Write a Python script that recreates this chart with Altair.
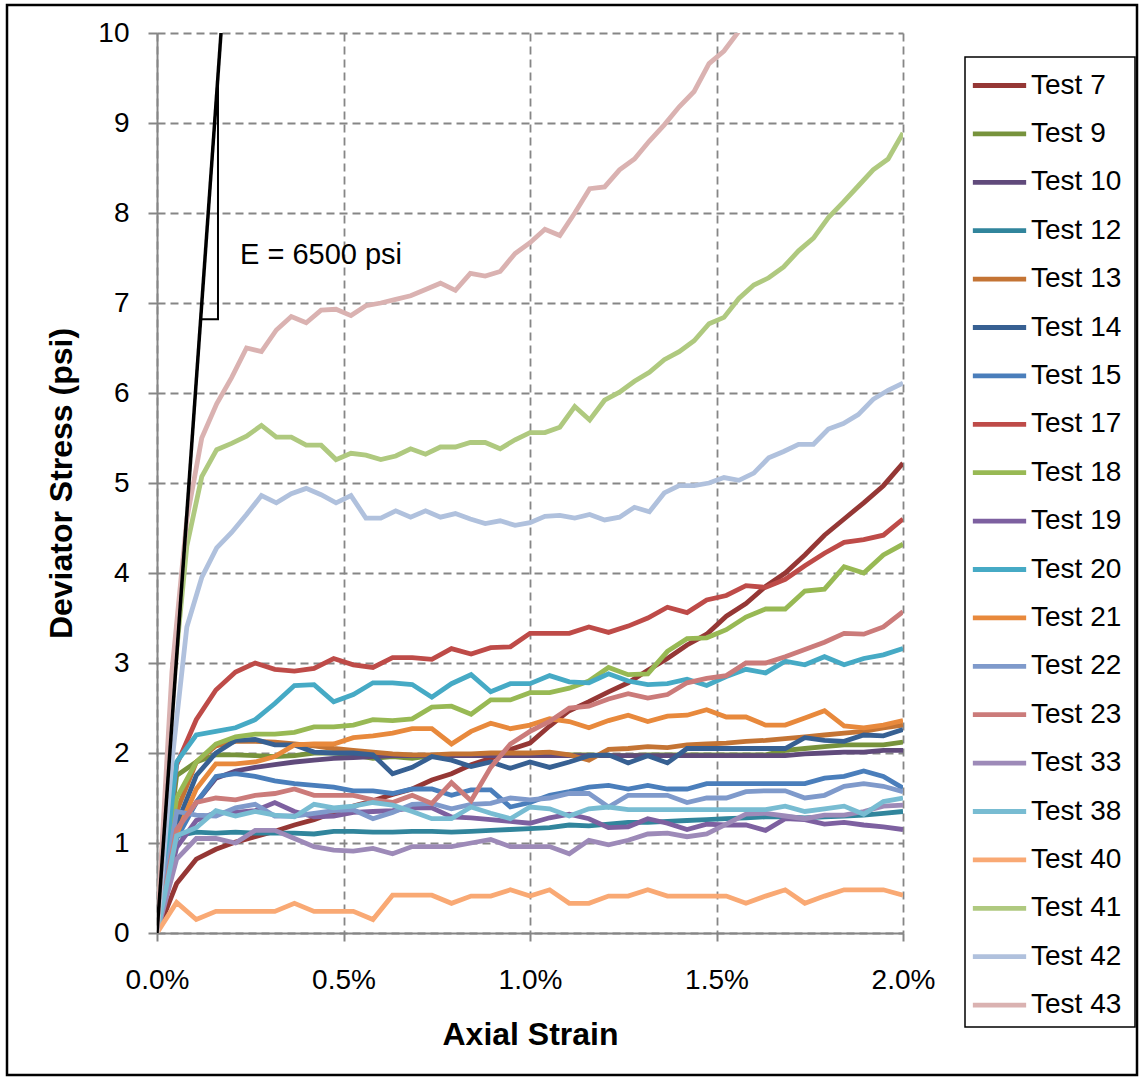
import altair as alt
import pandas as pd

FONT = "Liberation Sans"

# strain spacing between readings (fraction): fine = 0.04 %, coarse = 2.0 % / 38
STEP_FINE = 0.0004
STEP_COARSE = 0.02 / 38

names = ["Test 7", "Test 9", "Test 10", "Test 12", "Test 13", "Test 14", "Test 15",
         "Test 17", "Test 18", "Test 19", "Test 20", "Test 21", "Test 22", "Test 23",
         "Test 33", "Test 38", "Test 40", "Test 41", "Test 42", "Test 43"]

colors = ["#953735", "#77933C", "#604A7B", "#31859C", "#C47434", "#376092", "#4A7EBB",
          "#BE4B48", "#98B954", "#7D60A0", "#46AAC5", "#E8893C", "#7F9ACB", "#CB7B7A",
          "#9D8AB8", "#78BCD2", "#F9A974", "#AFC97F", "#B0C1DD", "#DAB2B1"]

test7 = [0, 0.55, 0.82, 0.93, 1.01, 1.07, 1.13, 1.2, 1.26, 1.34, 1.41, 1.47, 1.54, 1.6, 1.7, 1.77,
         1.87, 1.94, 2.04, 2.11, 2.3, 2.47, 2.57, 2.68, 2.78, 2.92, 3.05, 3.2, 3.32, 3.52, 3.66,
         3.85, 4.0, 4.2, 4.42, 4.6, 4.78, 4.97, 5.22]
test9 = [0, 1.75, 1.9, 1.98, 1.98, 1.97, 1.96, 1.97, 2.0, 2.0, 1.98, 1.94, 1.96, 1.94, 1.97, 1.97,
         1.98, 1.98, 1.98, 1.98, 1.97, 1.98, 1.98, 1.97, 1.97, 1.98, 1.98, 1.98, 1.98, 1.98, 1.98,
         1.98, 2.03, 2.05, 2.07, 2.09, 2.09, 2.09, 2.12]
test10 = [0, 1.1, 1.45, 1.72, 1.8, 1.84, 1.87, 1.9, 1.92, 1.94, 1.95, 1.96, 1.97, 1.97, 1.97, 1.97,
          1.97, 1.97, 1.97, 1.97, 1.97, 1.97, 1.97, 1.97, 1.97, 1.97, 1.97, 1.97, 1.97, 1.97, 1.97,
          1.97, 1.97, 1.99, 2.0, 2.01, 2.01, 2.03, 2.03]
test12 = [0, 1.08, 1.12, 1.11, 1.12, 1.11, 1.11, 1.11, 1.1, 1.13, 1.13, 1.12, 1.12, 1.13, 1.13, 1.12,
          1.13, 1.14, 1.15, 1.16, 1.17, 1.2, 1.19, 1.21, 1.23, 1.23, 1.24, 1.25, 1.26, 1.27, 1.28,
          1.29, 1.29, 1.28, 1.29, 1.3, 1.31, 1.33, 1.35]
test13 = [0, 1.35, 1.9, 2.08, 2.13, 2.13, 2.12, 2.1, 2.08, 2.05, 2.03, 2.01, 1.99, 1.98, 1.98, 1.99,
          1.99, 2.0, 2.0, 2.0, 2.01, 1.98, 1.92, 2.04, 2.05, 2.07, 2.06, 2.09, 2.1, 2.11, 2.13,
          2.14, 2.16, 2.18, 2.2, 2.22, 2.24, 2.28, 2.31]
test14 = [0, 1.2, 1.75, 2.0, 2.14, 2.15, 2.09, 2.09, 2.01, 2.0, 2.0, 1.98, 1.77, 1.84, 1.96, 1.92,
          1.85, 1.9, 1.83, 1.9, 1.84, 1.9, 1.97, 1.98, 1.89, 1.97, 1.89, 2.05, 2.05, 2.05, 2.05,
          2.05, 2.05, 2.17, 2.14, 2.13, 2.2, 2.19, 2.26]
test15 = [0, 1.05, 1.45, 1.74, 1.77, 1.74, 1.69, 1.66, 1.64, 1.62, 1.58, 1.58, 1.55, 1.6, 1.6, 1.53,
          1.59, 1.59, 1.4, 1.45, 1.53, 1.57, 1.62, 1.64, 1.6, 1.64, 1.6, 1.6, 1.66, 1.66, 1.66,
          1.66, 1.66, 1.66, 1.72, 1.74, 1.8, 1.74, 1.61]
test17 = [0, 1.87, 2.37, 2.7, 2.9, 3.0, 2.93, 2.91, 2.94, 3.05, 2.98, 2.95, 3.06, 3.06, 3.04, 3.16,
          3.1, 3.17, 3.18, 3.33, 3.33, 3.33, 3.4, 3.34, 3.41, 3.5, 3.62, 3.56, 3.7, 3.75, 3.86,
          3.84, 3.93, 4.08, 4.22, 4.34, 4.37, 4.42, 4.6]
test18 = [0, 1.5, 1.9, 2.1, 2.18, 2.21, 2.21, 2.23, 2.29, 2.29, 2.31, 2.37, 2.36, 2.38, 2.51, 2.52,
          2.43, 2.59, 2.59, 2.67, 2.67, 2.72, 2.8, 2.95, 2.87, 2.88, 3.13, 3.27, 3.28, 3.37, 3.51,
          3.6, 3.6, 3.8, 3.82, 4.07, 4.0, 4.2, 4.32]
test19 = [0, 0.95, 1.25, 1.34, 1.34, 1.36, 1.45, 1.35, 1.29, 1.3, 1.34, 1.35, 1.36, 1.39, 1.39, 1.29,
          1.28, 1.26, 1.24, 1.22, 1.28, 1.32, 1.27, 1.17, 1.18, 1.27, 1.22, 1.15, 1.21, 1.2, 1.2,
          1.14, 1.27, 1.26, 1.21, 1.23, 1.2, 1.18, 1.15]
test20 = [0, 1.9, 2.2, 2.24, 2.28, 2.37, 2.55, 2.75, 2.76, 2.57, 2.65, 2.78, 2.78, 2.76, 2.62, 2.77,
          2.87, 2.68, 2.77, 2.77, 2.86, 2.79, 2.78, 2.88, 2.8, 2.76, 2.77, 2.82, 2.75, 2.85, 2.93,
          2.89, 3.02, 2.98, 3.07, 2.98, 3.05, 3.09, 3.16]
test21 = [0, 1.1, 1.6, 1.88, 1.88, 1.9, 1.96, 2.09, 2.1, 2.1, 2.17, 2.19, 2.22, 2.27, 2.27, 2.1,
          2.24, 2.33, 2.27, 2.31, 2.38, 2.35, 2.28, 2.36, 2.42, 2.35, 2.41, 2.42, 2.48, 2.4, 2.4,
          2.31, 2.31, 2.39, 2.47, 2.3, 2.28, 2.31, 2.36]
test22 = [0, 1.35, 1.31, 1.3, 1.39, 1.43, 1.3, 1.3, 1.33, 1.36, 1.37, 1.27, 1.34, 1.43, 1.44, 1.38,
          1.43, 1.44, 1.5, 1.48, 1.5, 1.55, 1.55, 1.4, 1.53, 1.53, 1.53, 1.45, 1.5, 1.5, 1.57,
          1.58, 1.58, 1.5, 1.53, 1.63, 1.66, 1.63, 1.57]
test23 = [0, 1.15, 1.45, 1.5, 1.48, 1.53, 1.55, 1.6, 1.53, 1.53, 1.53, 1.48, 1.45, 1.53, 1.44, 1.67,
          1.47, 1.84, 2.1, 2.24, 2.35, 2.5, 2.52, 2.6, 2.66, 2.61, 2.65, 2.78, 2.83, 2.86, 3.0,
          3.0, 3.07, 3.15, 3.23, 3.33, 3.32, 3.4, 3.57]
test33 = [0, 0.82, 1.05, 1.05, 1.0, 1.14, 1.14, 1.05, 0.96, 0.92, 0.91, 0.94, 0.88, 0.96, 0.96, 0.96,
          1.0, 1.04, 0.96, 0.96, 0.96, 0.88, 1.03, 0.98, 1.03, 1.1, 1.11, 1.07, 1.1, 1.21, 1.32,
          1.33, 1.3, 1.27, 1.31, 1.31, 1.35, 1.41, 1.42]
test38 = [0, 1.08, 1.17, 1.36, 1.3, 1.35, 1.31, 1.29, 1.43, 1.39, 1.41, 1.45, 1.42, 1.35, 1.27, 1.27,
          1.4, 1.33, 1.27, 1.4, 1.38, 1.3, 1.38, 1.4, 1.37, 1.37, 1.37, 1.37, 1.37, 1.37, 1.37,
          1.37, 1.41, 1.35, 1.38, 1.41, 1.32, 1.46, 1.5]
test40 = [0, 0.34, 0.15, 0.24, 0.24, 0.24, 0.24, 0.33, 0.24, 0.24, 0.24, 0.15, 0.42, 0.42, 0.42, 0.33,
          0.41, 0.41, 0.48, 0.41, 0.48, 0.33, 0.33, 0.41, 0.41, 0.48, 0.41, 0.41, 0.41, 0.41, 0.33,
          0.41, 0.48, 0.33, 0.41, 0.48, 0.48, 0.48, 0.42]
test41 = [0, 2.6, 4.3, 5.07, 5.37, 5.44, 5.52, 5.64, 5.51, 5.51, 5.42, 5.42, 5.26, 5.33, 5.31, 5.26,
          5.3, 5.38, 5.32, 5.4, 5.4, 5.45, 5.45, 5.38, 5.48, 5.56, 5.56, 5.62, 5.85, 5.7, 5.92,
          6.01, 6.13, 6.23, 6.37, 6.46, 6.58, 6.77, 6.84, 7.05, 7.2, 7.28, 7.4, 7.58, 7.72, 7.95,
          8.12, 8.3, 8.48, 8.6, 8.89]
test42 = [0, 1.9, 3.4, 3.95, 4.28, 4.45, 4.65, 4.86, 4.78, 4.88, 4.94, 4.87, 4.78, 4.86, 4.61, 4.61,
          4.69, 4.62, 4.69, 4.62, 4.66, 4.6, 4.55, 4.58, 4.53, 4.56, 4.63, 4.64, 4.61, 4.65, 4.59,
          4.62, 4.73, 4.68, 4.89, 4.97, 4.97, 5.0, 5.06, 5.03, 5.11, 5.28, 5.35, 5.43, 5.43, 5.6,
          5.66, 5.76, 5.93, 6.03, 6.11]
test43 = [0, 2.9, 4.6, 5.5, 5.88, 6.17, 6.5, 6.46, 6.7, 6.85, 6.78, 6.92, 6.93, 6.86, 6.97, 7.0,
          7.04, 7.08, 7.15, 7.22, 7.14, 7.33, 7.3, 7.35, 7.55, 7.67, 7.82, 7.75, 8.0, 8.27, 8.29,
          8.48, 8.6, 8.8, 8.98, 9.18, 9.35, 9.66, 9.8, 10.02, 10.3]

values = [test7, test9, test10, test12, test13, test14, test15, test17, test18, test19,
          test20, test21, test22, test23, test33, test38, test40, test41, test42, test43]
steps = [STEP_COARSE] * 17 + [STEP_FINE] * 3

rows = []
for name, step, vals in zip(names, steps, values):
    for i, v in enumerate(vals):
        rows.append({"series": name, "strain": i * step, "stress": v, "idx": i})
df = pd.DataFrame(rows)

# modulus line E = 6500 psi and its slope triangle
mod_strain = [0.0, 0.001716]
mod_stress = [0.0, 10.0]
tri_strain = [0.00117, 0.001635, 0.001635]
tri_stress = [6.82, 6.82, 9.47]
label_text = ["E = 6500 psi"]
label_strain = [0.002225]
label_stress = [7.53]

x_scale = alt.Scale(domain=[0, 0.02], nice=False)
y_scale = alt.Scale(domain=[0, 10], nice=False)

GRID = "#868686"

x_axis = alt.Axis(values=[0, 0.005, 0.01, 0.015, 0.02], format=".1%", title="Axial Strain",
                  titleFont=FONT, titleFontSize=32, titleFontWeight="bold", titleColor="black",
                  titleBaseline="alphabetic", titleY=111,
                  labelFont=FONT, labelFontSize=28, labelColor="black", labelPadding=25,
                  tickSize=8, tickColor=GRID, tickWidth=2, domainColor=GRID, domainWidth=2,
                  grid=True, gridColor=GRID, gridDash=[8, 5], gridWidth=1.8, labelFlush=False)
y_axis = alt.Axis(values=list(range(0, 11)), format="d", title="Deviator Stress (psi)",
                  titleFont=FONT, titleFontSize=32, titleFontWeight="bold", titleColor="black",
                  titleBaseline="alphabetic", titleX=-86, titleAngle=-90,
                  labelFont=FONT, labelFontSize=28, labelColor="black", labelPadding=19,
                  tickSize=9, tickColor=GRID, tickWidth=2, domainColor=GRID, domainWidth=2,
                  grid=True, gridColor=GRID, gridDash=[8, 5], gridWidth=1.8, labelFlush=False)

legend = alt.Legend(title=None, orient="none", legendX=808, legendY=23, direction="vertical",
                    symbolType="stroke", symbolSize=2841, symbolStrokeWidth=4.8, symbolOffset=5,
                    labelFont=FONT, labelFontSize=28, labelColor="black", labelOffset=2,
                    rowPadding=4.4, padding=0, labelLimit=300)

lines = alt.Chart(df).mark_line(strokeWidth=4.8, clip=True).encode(
    x=alt.X("strain:Q", scale=x_scale, axis=x_axis),
    y=alt.Y("stress:Q", scale=y_scale, axis=y_axis),
    color=alt.Color("series:N", scale=alt.Scale(domain=names, range=colors), legend=legend,
                    sort=names),
    order="idx:Q",
)

mod_df = pd.DataFrame({"strain": mod_strain, "stress": mod_stress, "idx": [0, 1]})
modulus = alt.Chart(mod_df).mark_line(color="black", strokeWidth=3.5, clip=True).encode(
    x=alt.X("strain:Q", scale=x_scale), y=alt.Y("stress:Q", scale=y_scale), order="idx:Q")

tri_df = pd.DataFrame({"strain": tri_strain, "stress": tri_stress, "idx": [0, 1, 2]})
triangle = alt.Chart(tri_df).mark_line(color="black", strokeWidth=2).encode(
    x=alt.X("strain:Q", scale=x_scale), y=alt.Y("stress:Q", scale=y_scale), order="idx:Q")

lab_df = pd.DataFrame({"t": label_text, "strain": label_strain, "stress": label_stress})
label = alt.Chart(lab_df).mark_text(font=FONT, fontSize=29, align="left", baseline="middle",
                                    color="black").encode(
    x=alt.X("strain:Q", scale=x_scale), y=alt.Y("stress:Q", scale=y_scale), text="t:N")

one = pd.DataFrame({"a": [0]})
frame = alt.Chart(one).mark_rect(
    fill="white", fillOpacity=0, stroke="black", strokeWidth=2.5).encode(
    x=alt.value(-150), x2=alt.value(980), y=alt.value(-28), y2=alt.value(1042))
legend_box = alt.Chart(one).mark_rect(
    fill="white", fillOpacity=0, stroke="black", strokeWidth=1.5).encode(
    x=alt.value(808), x2=alt.value(978), y=alt.value(24), y2=alt.value(994))

chart = alt.layer(lines, modulus, triangle, label, frame, legend_box).properties(
    width=746, height=900,
    padding={"left": 157, "top": 33, "right": 240, "bottom": 147},
    autosize=alt.AutoSizeParams(type="none"),
    background="white",
).configure_view(stroke=None)

chart.save("out.html", embed_options={"renderer": "svg", "actions": False})
